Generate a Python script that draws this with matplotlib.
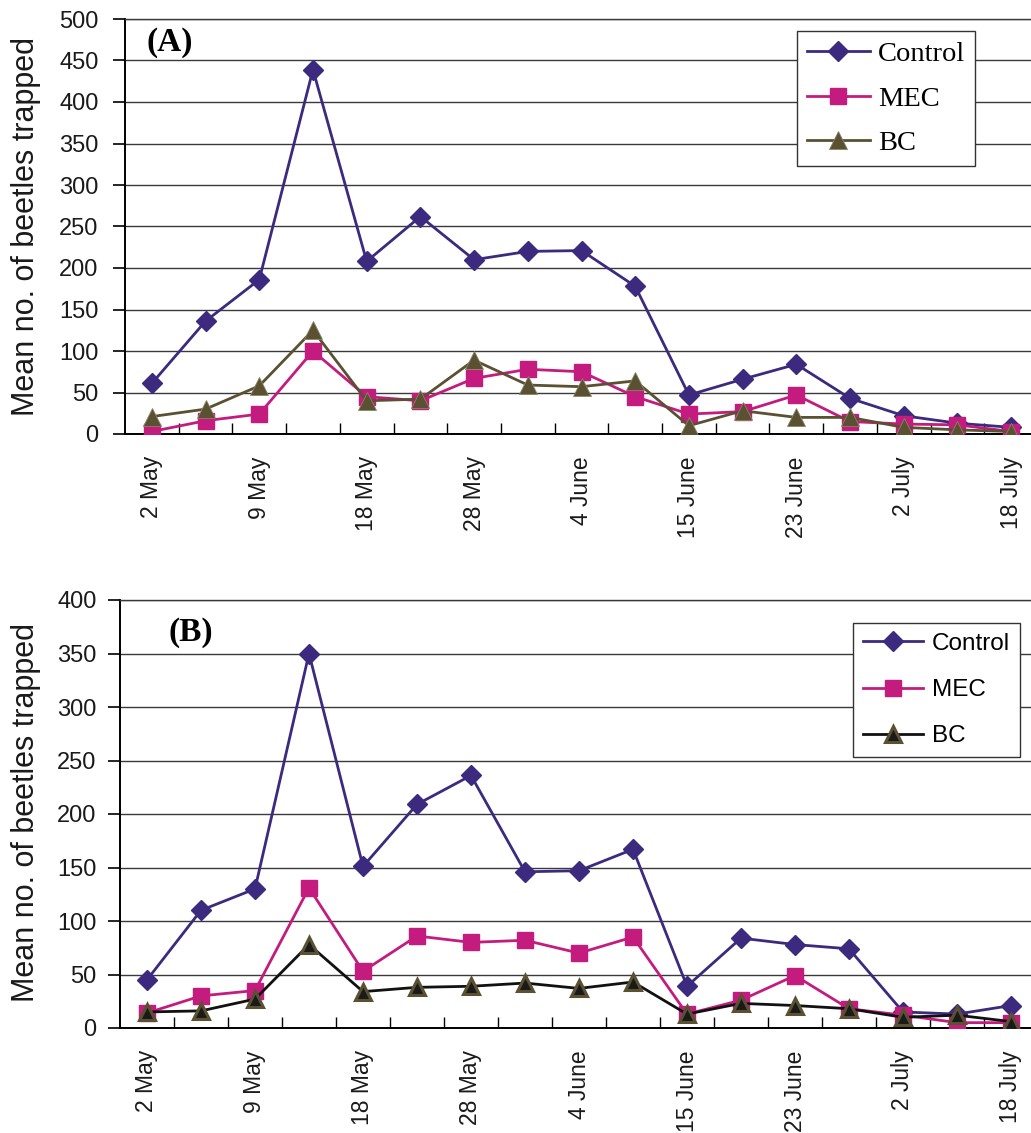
import numpy as np
import matplotlib
matplotlib.use("Agg")
import matplotlib.pyplot as plt
from matplotlib.ticker import MultipleLocator, FixedLocator

# ---------------- data ----------------
tick_labels = ['2 May', '9 May', '18 May', '28 May', '4 June',
               '15 June', '23 June', '2 July', '18 July']
series_names = ['Control', 'MEC', 'BC']

control_A = [61, 136, 186, 439, 208, 262, 210, 220, 221, 178, 47, 66, 84, 43, 22, 13, 8]
mec_A     = [3, 16, 24, 100, 45, 40, 67, 78, 75, 45, 24, 27, 47, 15, 12, 11, 3]
bc_A      = [21, 30, 58, 125, 40, 42, 89, 59, 57, 64, 10, 28, 20, 20, 8, 5, 3]

control_B = [45, 110, 130, 350, 151, 209, 236, 146, 147, 167, 39, 84, 78, 74, 15, 13, 21]
mec_B     = [14, 30, 35, 131, 53, 86, 80, 82, 70, 85, 13, 26, 49, 18, 12, 5, 5]
bc_B      = [15, 16, 27, 78, 34, 38, 39, 42, 37, 43, 13, 23, 21, 18, 10, 12, 6]

# ---------------- style ----------------
C_CTRL = '#3B2A7E'
C_MEC = '#C41C7E'
C_BC = '#5A5032'
GRID = '#3a3a3a'
SANS = ['Liberation Sans', 'DejaVu Sans']
SERIF = ['Liberation Serif', 'DejaVu Serif']

W, H = 1031, 1133
fig = plt.figure(figsize=(W / 100, H / 100), dpi=100)


def px_axes(left, top, right, bottom):
    return fig.add_axes([left / W, 1 - bottom / H, (right - left) / W, (bottom - top) / H])


def style_axes(ax, ymax, n, tick_pad):
    ax.set_xlim(-0.5, n - 0.5)
    ax.set_ylim(0, ymax)
    ax.yaxis.set_major_locator(MultipleLocator(50))
    ax.grid(axis='y', color=GRID, lw=1.0, zorder=0)
    ax.set_axisbelow(True)
    ax.spines['right'].set_visible(False)
    ax.spines['top'].set_color(GRID)
    ax.spines['top'].set_linewidth(1.0)
    ax.spines['left'].set_linewidth(1.4)
    ax.spines['bottom'].set_linewidth(1.4)
    ax.tick_params(axis='y', direction='out', length=9, width=1.2, pad=tick_pad,
                   labelsize=17, labelcolor='#1a1a1a')
    for t in ax.get_yticklabels():
        t.set_fontfamily(SANS)
    # x: labels at every other category, minor ticks at category boundaries
    ax.xaxis.set_major_locator(FixedLocator(list(range(0, n, 2))))
    ax.set_xticklabels(tick_labels, rotation=90, fontsize=16.5, family=SANS, color='#1a1a1a')
    ax.xaxis.set_minor_locator(FixedLocator(list(np.arange(0.5, n - 0.5, 1.0))))
    ax.tick_params(axis='x', which='major', length=0, pad=16)
    ax.tick_params(axis='x', which='minor', direction='in', length=8, width=1.0)
    ax.set_ylabel('Mean no. of beetles trapped', fontsize=22, family=SANS, color='#1a1a1a')


n = len(control_A)
x = np.arange(n)

# ---------------- panel A ----------------
axA = px_axes(125, 19, 1038, 434)
style_axes(axA, 500, n, 10)
axA.plot(x, control_A, color=C_CTRL, lw=2, marker='D', ms=10.5, mfc=C_CTRL, mec=C_CTRL,
         label=series_names[0], zorder=3)
axA.plot(x, mec_A, color=C_MEC, lw=2, marker='s', ms=12, mfc=C_MEC, mec=C_MEC,
         label=series_names[1], zorder=3)
axA.plot(x, bc_A, color=C_BC, lw=2, marker='^', ms=13, mfc=C_BC, mec='#8a8466', mew=0.6,
         label=series_names[2], zorder=3)
fig.text(147 / W, 1 - 42 / H, '(A)', fontsize=24, fontweight='bold',
         family=SERIF, ha='left', va='center')
legA = axA.legend(loc='upper left', bbox_to_anchor=(797 / W, 1 - 31 / H),
                  bbox_transform=fig.transFigure, borderaxespad=0,
                  prop={'family': SERIF, 'size': 20.5}, fancybox=False, framealpha=1,
                  edgecolor='#333333', handlelength=2.2, handletextpad=0.3,
                  labelspacing=0.66, borderpad=0.35)
legA.get_frame().set_linewidth(1.0)

# ---------------- panel B ----------------
axB = px_axes(120, 600, 1038, 1028)
style_axes(axB, 400, n, 8)
axB.plot(x, control_B, color=C_CTRL, lw=2, marker='D', ms=10.5, mfc=C_CTRL, mec=C_CTRL,
         label=series_names[0], zorder=3)
axB.plot(x, mec_B, color=C_MEC, lw=2, marker='s', ms=12, mfc=C_MEC, mec=C_MEC,
         label=series_names[1], zorder=3)
axB.plot(x, bc_B, color='#111111', lw=2, marker='^', ms=12, mfc='#1a1a1a', mec=C_BC, mew=2.2,
         label=series_names[2], zorder=3)
fig.text(168 / W, 1 - 632 / H, '(B)', fontsize=24, fontweight='bold',
         family=SERIF, ha='left', va='center')
legB = axB.legend(loc='upper left', bbox_to_anchor=(853 / W, 1 - 623 / H),
                  bbox_transform=fig.transFigure, borderaxespad=0,
                  prop={'family': SANS, 'size': 17.5}, fancybox=False, framealpha=1,
                  edgecolor='#333333', handlelength=2.5, handletextpad=0.35,
                  labelspacing=1.0, borderpad=0.4)
legB.get_frame().set_linewidth(1.0)

# y-label positions (pixel centres)
axA.yaxis.set_label_coords(26 / W, 1 - 227 / H, transform=fig.transFigure)
axB.yaxis.set_label_coords(26 / W, 1 - 812 / H, transform=fig.transFigure)
axA.yaxis.label.set_va('center')
axB.yaxis.label.set_va('center')

fig.savefig('out.png', dpi=100)
